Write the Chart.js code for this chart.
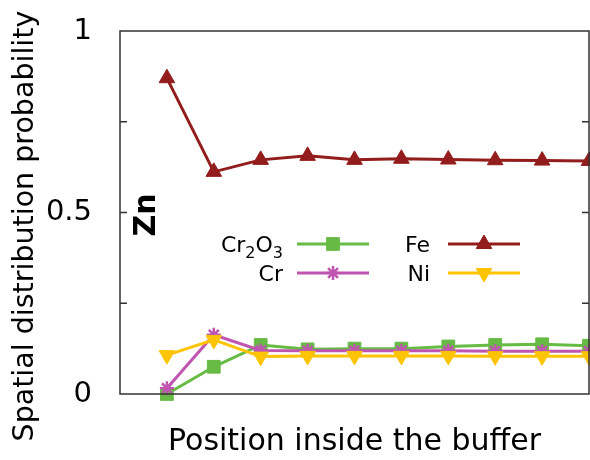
<!DOCTYPE html>
<html>
<head>
<meta charset="utf-8">
<script src="https://cdn.jsdelivr.net/npm/chart.js@4/dist/chart.umd.min.js"></script>
<style>
  body { margin: 0; background: #fff; }
  canvas { display: block; }
</style>
</head>
<body>
<canvas id="chart" width="590" height="460"></canvas>
<script>
// data
const positions = [1, 2, 3, 4, 5, 6, 7, 8, 9, 10];
const cr2o3 = [0.0, 0.075, 0.135, 0.123, 0.125, 0.125, 0.131, 0.135, 0.137, 0.133];
const cr = [0.016, 0.163, 0.12, 0.119, 0.119, 0.119, 0.119, 0.118, 0.118, 0.118];
const fe = [0.87, 0.612, 0.645, 0.656, 0.645, 0.648, 0.646, 0.644, 0.643, 0.642];
const ni = [0.107, 0.149, 0.103, 0.105, 0.105, 0.105, 0.105, 0.104, 0.104, 0.104];
const yLabels = [0, 0.5, 1];

const FONT = "'DejaVu Sans', sans-serif";
Chart.defaults.font.family = FONT;
Chart.defaults.color = '#000';

function pts(values) {
    return positions.map((x, i) => ({x: x, y: values[i]}));
}

function series(label, values, color, style, radius, extra) {
    return Object.assign({
        label: label,
        data: pts(values),
        borderColor: color,
        backgroundColor: color,
        pointBackgroundColor: color,
        pointBorderColor: color,
        pointStyle: style,
        pointRadius: radius,
        pointBorderWidth: 1,
        borderWidth: 3,
        clip: false,
        tension: 0
    }, extra || {});
}

const datasets = [
    series('Cr2O3', cr2o3, '#66bb44', 'rect', 9, {order: 3}),
    series('Cr', cr, '#bf55b0', 'star', 7, {order: 2, pointBorderWidth: 2.5}),
    series('Fe', fe, '#931c1c', 'triangle', 9, {order: 1}),
    series('Ni', ni, '#ffc400', 'triangle', 9, {order: 0, pointRotation: 180})
];

// frame, inward ticks, "Zn" tag and the two-column legend
const decorations = {
    id: 'decorations',
    afterDraw(chart) {
        const ctx = chart.ctx;
        const area = chart.chartArea;
        const y = chart.scales.y;
        ctx.save();
        ctx.strokeStyle = '#333';
        ctx.lineWidth = 1.5;
        ctx.strokeRect(area.left, area.top, area.right - area.left, area.bottom - area.top);
        [0.25, 0.5, 0.75].forEach(v => {
            const py = y.getPixelForValue(v);
            ctx.beginPath();
            ctx.moveTo(area.left, py);
            ctx.lineTo(area.left + 7, py);
            ctx.moveTo(area.right, py);
            ctx.lineTo(area.right - 7, py);
            ctx.stroke();
        });

        // Zn
        ctx.save();
        ctx.translate(147, 215);
        ctx.rotate(-Math.PI / 2);
        ctx.font = 'bold 30px ' + FONT;
        ctx.fillStyle = '#000';
        ctx.textAlign = 'center';
        ctx.textBaseline = 'middle';
        ctx.fillText('Zn', 0, 0);
        ctx.restore();

        // legend
        const slots = [
            {text: [['Cr', 0], ['2', 1], ['O', 0], ['3', 1]], right: 283, x0: 297, x1: 369, y: 244},
            {text: [['Cr', 0]], right: 283, x0: 297, x1: 369, y: 273},
            {text: [['Fe', 0]], right: 430, x0: 448, x1: 520, y: 244},
            {text: [['Ni', 0]], right: 430, x0: 448, x1: 520, y: 273}
        ];
        chart.data.datasets.forEach((ds, i) => {
            const s = slots[i];
            ctx.fillStyle = '#000';
            ctx.textBaseline = 'alphabetic';
            ctx.textAlign = 'left';
            let total = 0;
            s.text.forEach(([t, sub]) => {
                ctx.font = (sub ? 16 : 22) + 'px ' + FONT;
                total += ctx.measureText(t).width;
            });
            let tx = s.right - total;
            s.text.forEach(([t, sub]) => {
                ctx.font = (sub ? 16 : 22) + 'px ' + FONT;
                ctx.fillText(t, tx, s.y + 8 + (sub ? 6 : 0));
                tx += ctx.measureText(t).width;
            });
            ctx.strokeStyle = ds.borderColor;
            ctx.lineWidth = 3;
            ctx.beginPath();
            ctx.moveTo(s.x0, s.y);
            ctx.lineTo(s.x1, s.y);
            ctx.stroke();
            ctx.fillStyle = ds.pointBackgroundColor;
            ctx.strokeStyle = ds.pointBorderColor;
            ctx.lineWidth = ds.pointBorderWidth;
            Chart.helpers.drawPoint(ctx, {
                pointStyle: ds.pointStyle,
                radius: ds.pointRadius,
                rotation: ds.pointRotation || 0,
                borderWidth: ds.pointBorderWidth
            }, (s.x0 + s.x1) / 2, s.y);
        });
        ctx.restore();
    }
};

new Chart(document.getElementById('chart'), {
    type: 'line',
    data: {datasets: datasets},
    options: {
        responsive: false,
        animation: false,
        layout: {autoPadding: false, padding: {top: 31, right: 1, bottom: 0, left: 0}},
        plugins: {
            legend: {display: false},
            tooltip: {enabled: false}
        },
        scales: {
            x: {
                type: 'linear',
                min: 0,
                max: 10,
                grid: {display: false},
                border: {display: false},
                ticks: {display: false},
                title: {
                    display: true,
                    text: 'Position inside the buffer',
                    font: {size: 30},
                    padding: {top: 0, bottom: 0}
                },
                afterFit(scale) { scale.height = 66; }
            },
            y: {
                min: 0,
                max: 1,
                grid: {display: false},
                border: {display: false},
                ticks: {
                    stepSize: 0.25,
                    padding: 20,
                    font: {size: 29},
                    callback: v => yLabels.includes(v) ? String(v) : ''
                },
                title: {
                    display: true,
                    // trailing spaces nudge the rotated title down to where the original sits
                    text: 'Spatial distribution probability   ',
                    font: {size: 28.5},
                    padding: {top: 8, bottom: 0}
                },
                afterFit(scale) {
                    scale.width = 120;
                    scale.paddingTop = 0;
                    scale.paddingBottom = 0;
                }
            }
        }
    },
    plugins: [decorations]
});
</script>
</body>
</html>
